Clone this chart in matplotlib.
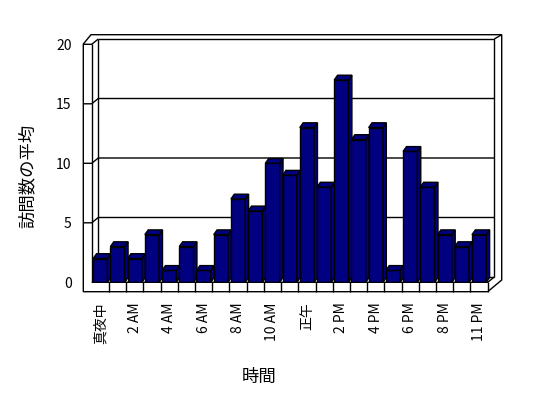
import matplotlib.pyplot as plt
from matplotlib.patches import Polygon

plt.rcParams['font.family'] = ['Noto Sans CJK JP', 'DejaVu Sans']

# hourly categories (the source skips one evening hour)
hours = ["真夜中", "1 AM", "2 AM", "3 AM", "4 AM", "5 AM", "6 AM", "7 AM",
         "8 AM", "9 AM", "10 AM", "11 AM", "正午", "1 PM", "2 PM", "3 PM",
         "4 PM", "5 PM", "6 PM", "7 PM", "8 PM", "9 PM", "11 PM"]
visits = [2, 3, 2, 4, 1, 3, 1, 4, 7, 6, 10, 9, 13, 8, 17, 12, 13, 1, 11, 8, 4, 3, 4]
yticks = [0, 5, 10, 15, 20]

W, H = 548, 398
fig = plt.figure(figsize=(W / 100, H / 100), dpi=100)

# front plane of the 3d box, in pixels
left, right, bottom, top = 91.7, 487.7, 282.3, 44.3
ax = fig.add_axes([left / W, 1 - bottom / H, (right - left) / W, (bottom - top) / H])
n = len(visits)
ax.set_xlim(-0.5, n - 0.5)
ax.set_ylim(0, 20)
ax.patch.set_visible(False)
for s in ax.spines.values():
    s.set_visible(False)

sx = (right - left) / n
sy = (bottom - top) / 20


def px(x, y):
    # pixel position -> data coords
    return (-0.5 + (x - left) / sx, (bottom - y) / sy)


def line(pts, z=1.5):
    xs, ys = zip(*[px(*p) for p in pts])
    ax.plot(xs, ys, color='black', lw=1, clip_on=False, zorder=z,
            solid_capstyle='butt')


dx, dy = 6.6, -5.3
bl, br = left + dx, right + dx
bt, bb = top + dy, bottom + dy

# outer shell
shell = [(83.3, 44), (91, 34.7), (501.7, 34.7), (501.7, 280), (487.7, 291.7), (83.3, 291.7)]
ax.add_patch(Polygon([px(*p) for p in shell], closed=True, facecolor='white',
                     edgecolor='black', lw=1, clip_on=False, zorder=1))

# back wall
line([(bl, bt), (br, bt), (br, bb)])
line([(bl, bt), (bl, bb)])
line([(br, bt), (501.7, 34.7)])
# left wall
line([(83.3, top), (left, top), (bl, bt)])
line([(left, top), (left, bottom)])
# floor
line([(left, bottom), (right, bottom), (br, bb)])
line([(bl, bb), (br, bb)])
line([(right, bottom), (right, 291.7)])
for k in range(1, n):
    xk = left + k * sx
    line([(xk, bottom), (xk, 291.7)])

# gridlines on walls
for v in yticks[1:-1]:
    yf = bottom - v * sy
    line([(83.3, yf), (left, yf), (bl, yf + dy), (br, yf + dy)])

# bars
w = 0.83
bdx, bdy = 3.4 / sx, 4.8 / sy
navy = '#000080'
bars = ax.bar(range(n), visits, width=w, color=navy, edgecolor='black', lw=1)
for i, (b, v) in enumerate(zip(bars, visits)):
    z = 3 + i * 0.01
    b.set_zorder(z)
    xr = i + w / 2
    side = [(xr, 0), (xr + bdx, bdy), (xr + bdx, v + bdy), (xr, v)]
    topf = [(i - w / 2, v), (xr, v), (xr + bdx, v + bdy), (i - w / 2 + bdx, v + bdy)]
    for pts in (side, topf):
        ax.add_patch(Polygon(pts, closed=True, facecolor=navy, edgecolor='black',
                             lw=1, zorder=z, clip_on=False))

ax.set_yticks(yticks)
ax.set_yticklabels([str(t) for t in yticks], fontsize=10)
ax.set_xticks(range(0, n, 2))
ax.set_xticklabels(hours[::2], rotation=90, fontsize=10)
ax.tick_params(axis='y', length=0, pad=14.5)
ax.tick_params(axis='x', length=0, pad=14.5)

fig.text(259 / W, 1 - 377 / H, "時間", fontsize=12.5, ha='center', va='center')
fig.text(28 / W, 1 - 176 / H, "訪問数の平均", fontsize=12.5, rotation=90,
         ha='center', va='center')

fig.savefig('out.png', dpi=100)
